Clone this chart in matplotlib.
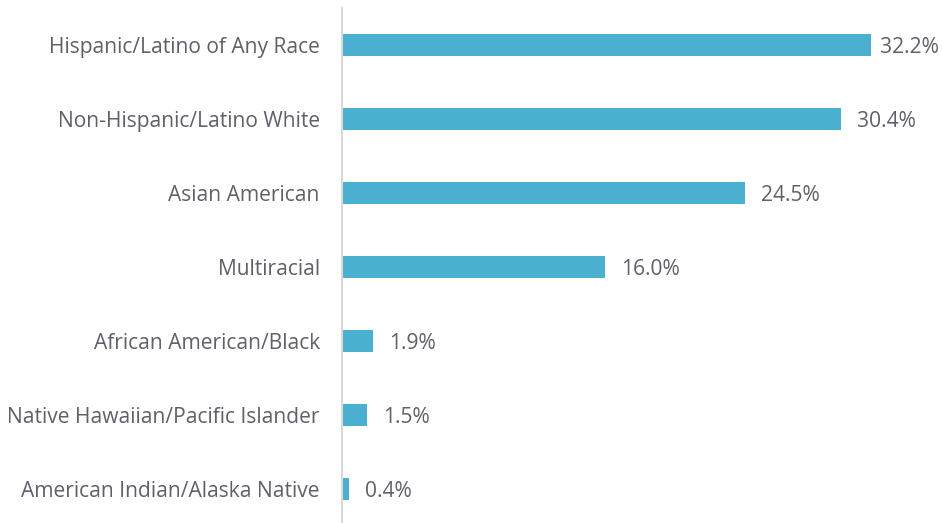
import matplotlib
matplotlib.use("Agg")
import matplotlib.pyplot as plt

categories = ["Hispanic/Latino of Any Race", "Non-Hispanic/Latino White", "Asian American",
              "Multiracial", "African American/Black", "Native Hawaiian/Pacific Islander",
              "American Indian/Alaska Native"]
values = [32.2, 30.4, 24.5, 16.0, 1.9, 1.5, 0.4]
value_labels = ["32.2%", "30.4%", "24.5%", "16.0%", "1.9%", "1.5%", "0.4%"]

plt.rcParams['font.family'] = ['Open Sans', 'DejaVu Sans']
W, H = 942, 523
fig = plt.figure(figsize=(W/100, H/100), dpi=100)
ax = fig.add_axes([342/W, 0, 1 - 342/W, 1 - 8/H])

bar_color = "#4BAFD0"
text_color = "#5F6069"
fs = 15.1
ypos = list(range(len(categories)))
ax.barh(ypos, values, height=0.31, color=bar_color, left=0)
ax.set_ylim(6 + (523 - 489) / 74, -0.5)
ax.set_xlim(0, (W - 342) / 16.43)

xmax = ax.get_xlim()[1]
for y, v, lab in zip(ypos, values, value_labels):
    # labels near the right edge are squeezed closer to the bar
    off = 6.5 if v > 0.9 * xmax * 0.97 else 11.5
    ax.annotate(lab, (v, y), xytext=(off, -1.5), textcoords="offset points",
                va="center", ha="left", fontsize=fs, color=text_color)

ax.set_yticks(ypos)
ax.set_yticklabels(categories, fontsize=fs, color=text_color)
ax.tick_params(axis='y', length=0, pad=16)
ax.set_xticks([])
for s in ["top", "right", "bottom"]:
    ax.spines[s].set_visible(False)
ax.spines["left"].set_color("#D9D9D9")
ax.spines["left"].set_linewidth(1.5)

fig.savefig("out.png", dpi=100)
